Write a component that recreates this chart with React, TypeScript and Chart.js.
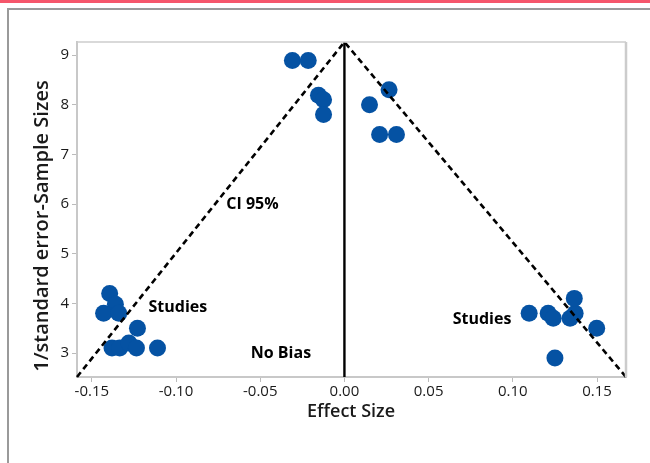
import React, { useEffect, useRef } from "react";
import { Chart, registerables } from "chart.js";

Chart.register(...registerables);

// Study points (effect size, 1/standard error)
const studyX = [
  -0.0309, -0.0215, -0.0154, -0.0124, -0.0124, 0.0149, 0.0265, 0.0209, 0.0309,
  -0.1394, -0.136, -0.143, -0.134, -0.1229, -0.138, -0.1334, -0.128, -0.1235, -0.111,
  0.1097, 0.121, 0.124, 0.134, 0.137, 0.1365, 0.1498, 0.125,
];
const studyY = [
  8.89, 8.89, 8.19, 8.1, 7.8, 8.0, 8.3, 7.4, 7.4,
  4.2, 3.98, 3.8, 3.8, 3.5, 3.1, 3.1, 3.2, 3.1, 3.1,
  3.8, 3.8, 3.7, 3.7, 3.8, 4.1, 3.5, 2.9,
];

// Axis ranges and ticks
const xMin = -0.1588;
const xMax = 0.1672;
const yMin = 2.517;
const yMax = 9.262;
const xTicks = [-0.15, -0.1, -0.05, 0, 0.05, 0.1, 0.15];
const yTicks = [3, 4, 5, 6, 7, 8, 9];

// 95% CI funnel and no-bias line
const funnelX = [-0.1588, 0, 0.1672];
const funnelY = [2.517, 9.262, 2.517];
const noBiasX = [0, 0];
const noBiasY = [2.517, 9.262];

// Annotations
const noteText = ["CI 95%", "Studies", "Studies", "No Bias"];
const noteX = [-0.0546, -0.0989, 0.0817, -0.0377];
const noteY = [6.0, 3.91, 3.67, 3.0];

const FONT = "'Open Sans', 'Noto Sans', sans-serif";

export default function App() {
  const ref = useRef<HTMLCanvasElement | null>(null);

  useEffect(() => {
    if (!ref.current) return;
    const decor = {
      id: "decor",
      afterDatasetsDraw(chart: any) {
        const { ctx, scales } = chart;
        ctx.save();
        ctx.fillStyle = "#000";
        ctx.font = `bold 16px ${FONT}`;
        ctx.textAlign = "center";
        ctx.textBaseline = "middle";
        noteText.forEach((t, i) => {
          ctx.fillText(t, scales.x.getPixelForValue(noteX[i]), scales.y.getPixelForValue(noteY[i]));
        });
        ctx.restore();
      },
      afterDraw(chart: any) {
        const { ctx, chartArea } = chart;
        ctx.save();
        ctx.strokeStyle = "#cccccc";
        ctx.lineWidth = 1.5;
        ctx.beginPath();
        ctx.moveTo(chartArea.left, chartArea.top);
        ctx.lineTo(chartArea.right, chartArea.top);
        ctx.stroke();
        ctx.lineWidth = 2.5;
        ctx.beginPath();
        ctx.moveTo(chartArea.right, chartArea.top);
        ctx.lineTo(chartArea.right, chartArea.bottom);
        ctx.stroke();
        // titles
        ctx.fillStyle = "#1a1a1a";
        ctx.textAlign = "center";
        ctx.textBaseline = "middle";
        ctx.font = `600 18px ${FONT}`;
        ctx.fillText("Effect Size", 351, 412);
        ctx.translate(42, 226);
        ctx.rotate(-Math.PI / 2);
        ctx.font = `600 20px ${FONT}`;
        ctx.fillText("1/standard error-Sample Sizes", 0, 0);
        ctx.restore();
      },
    };

    const chart = new Chart(ref.current, {
      type: "scatter",
      data: {
        datasets: [
          {
            data: funnelX.map((x, i) => ({ x, y: funnelY[i] })),
            showLine: true,
            borderColor: "#000",
            borderWidth: 2.6,
            borderDash: [6, 4],
            pointRadius: 0,
            fill: false,
            clip: false as any,
            order: 0,
          },
          {
            data: noBiasX.map((x, i) => ({ x, y: noBiasY[i] })),
            showLine: true,
            borderColor: "#000",
            borderWidth: 2.4,
            pointRadius: 0,
            fill: false,
            clip: false as any,
            order: 0,
          },
          {
            data: studyX.map((x, i) => ({ x, y: studyY[i] })),
            backgroundColor: "#0552a3",
            borderColor: "#0552a3",
            borderWidth: 0,
            pointRadius: 8.5,
            order: 1,
          },
        ],
      },
      options: {
        animation: false,
        responsive: false,
        devicePixelRatio: 1,
        layout: { padding: { left: 0, top: 42, right: 24, bottom: 0 } },
        plugins: { legend: { display: false }, tooltip: { enabled: false } },
        scales: {
          x: {
            type: "linear",
            min: xMin,
            max: xMax,
            afterBuildTicks: (s: any) => {
              s.ticks = xTicks.map((v) => ({ value: v }));
            },
            afterFit: (s: any) => {
              s.height = 86;
            },
            ticks: {
              color: "#1a1a1a",
              font: { family: FONT, size: 15 },
              padding: 1,
              maxRotation: 0,
              autoSkip: false,
              callback: (v: any) => Number(v).toFixed(2),
            },
            grid: { drawOnChartArea: false, drawTicks: true, tickLength: 5, color: "#bbb", tickWidth: 1 },
            border: { color: "#c8c8c8", width: 2 },
          },
          y: {
            type: "linear",
            min: yMin,
            max: yMax,
            afterBuildTicks: (s: any) => {
              s.ticks = yTicks.map((v) => ({ value: v }));
            },
            afterFit: (s: any) => {
              s.width = 77;
            },
            ticks: {
              color: "#1a1a1a",
              font: { family: FONT, size: 15 },
              padding: 3,
              autoSkip: false,
              callback: (v: any) => String(v),
            },
            grid: { drawOnChartArea: false, drawTicks: true, tickLength: 5, color: "#bbb", tickWidth: 1 },
            border: { color: "#c8c8c8", width: 2 },
          },
        },
      },
      plugins: [decor],
    });
    return () => chart.destroy();
  }, []);

  return (
    <div style={{ position: "absolute", left: 0, top: 0, width: 650, height: 463, background: "#fff", overflow: "hidden" }}>
      <div style={{ position: "absolute", left: 0, top: 0, width: 650, height: 3, background: "#f5566b" }} />
      <div style={{ position: "absolute", left: 7, top: 8, width: 643, height: 2, background: "#9a9a9a" }} />
      <div style={{ position: "absolute", left: 7, top: 8, width: 2, height: 455, background: "#9a9a9a" }} />
      <canvas ref={ref} width={650} height={463} style={{ position: "absolute", left: 0, top: 0, width: 650, height: 463 }} />
    </div>
  );
}
